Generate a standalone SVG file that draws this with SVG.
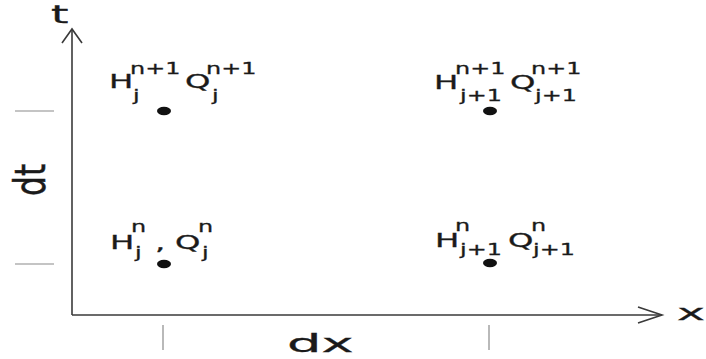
<svg xmlns="http://www.w3.org/2000/svg" width="706" height="359" viewBox="0 0 706 359">
<style>
text{font-family:"DejaVu Sans","Liberation Sans",sans-serif;fill:#1a1a1a;stroke:#1a1a1a;stroke-width:0.3}
.b{font-size:19px}
.s{font-size:16.5px}
.ax{stroke:#3a3a3a;stroke-width:1.6;fill:none}
.tk{stroke:#8a8a8a;stroke-width:1.2;fill:none}
.dot{fill:#111}
</style>
<rect width="706" height="359" fill="#fff"/>
<g id="connectors">
<line class="ax" x1="72" y1="315" x2="72" y2="29"/>
<polyline class="ax" points="62,43 72,29 82,43"/>
<line class="ax" x1="72" y1="315" x2="662" y2="315"/>
<polyline class="ax" points="638,307 662,315 638,323"/>
<line class="tk" x1="15" y1="111" x2="54" y2="111"/>
<line class="tk" x1="15" y1="264" x2="54" y2="264"/>
<line class="tk" x1="163" y1="325" x2="163" y2="350"/>
<line class="tk" x1="489" y1="325" x2="489" y2="350"/>
</g>
<g id="axis-labels">
<text transform="translate(51,23) scale(1.78,1)" style="font-size:25px">t</text>
<text transform="translate(677,320) scale(2.15,1)" style="font-size:22px">x</text>
<text transform="translate(287,352) scale(2.17,1)" style="font-size:25px">dx</text>
<text transform="translate(45,196) rotate(-90) scale(1.31,1.76)" style="font-size:24px">dt</text>
</g>
<g id="node-tl">
<ellipse class="dot" cx="164" cy="111" rx="7" ry="4.2"/>
<text class="b" transform="translate(109,88) scale(1.7,1)">H</text>
<text class="s" transform="translate(130,74) scale(1.45,1)">n+1</text>
<text class="s" transform="translate(133,101) scale(1.45,1)">j</text>
<text class="b" transform="translate(185,88) scale(1.7,1)">Q</text>
<text class="s" transform="translate(206,74) scale(1.45,1)">n+1</text>
<text class="s" transform="translate(212,101) scale(1.45,1)">j</text>
</g>
<g id="node-tr">
<ellipse class="dot" cx="490" cy="111" rx="7" ry="4.2"/>
<text class="b" transform="translate(434,89) scale(1.7,1)">H</text>
<text class="s" transform="translate(455,74) scale(1.45,1)">n+1</text>
<text class="s" transform="translate(460,101) scale(1.45,1)">j+1</text>
<text class="b" transform="translate(510,89) scale(1.7,1)">Q</text>
<text class="s" transform="translate(531,74) scale(1.45,1)">n+1</text>
<text class="s" transform="translate(535,101) scale(1.45,1)">j+1</text>
</g>
<g id="node-bl">
<ellipse class="dot" cx="164" cy="264" rx="7" ry="4.2"/>
<text class="b" transform="translate(110,249) scale(1.7,1)">H</text>
<text class="s" transform="translate(131,232) scale(1.45,1)">n</text>
<text class="s" transform="translate(135,258) scale(1.45,1)">j</text>
<text class="b" transform="translate(155,250) scale(1.7,1)">,</text>
<text class="b" transform="translate(175,249) scale(1.7,1)">Q</text>
<text class="s" transform="translate(198,232) scale(1.45,1)">n</text>
<text class="s" transform="translate(202,258) scale(1.45,1)">j</text>
</g>
<g id="node-br">
<ellipse class="dot" cx="490" cy="263" rx="7" ry="4.2"/>
<text class="b" transform="translate(435,247) scale(1.7,1)">H</text>
<text class="s" transform="translate(455,231) scale(1.45,1)">n</text>
<text class="s" transform="translate(460,255) scale(1.45,1)">j+1</text>
<text class="b" transform="translate(508,247) scale(1.7,1)">Q</text>
<text class="s" transform="translate(531,231) scale(1.45,1)">n</text>
<text class="s" transform="translate(533,255) scale(1.45,1)">j+1</text>
</g>
</svg>
